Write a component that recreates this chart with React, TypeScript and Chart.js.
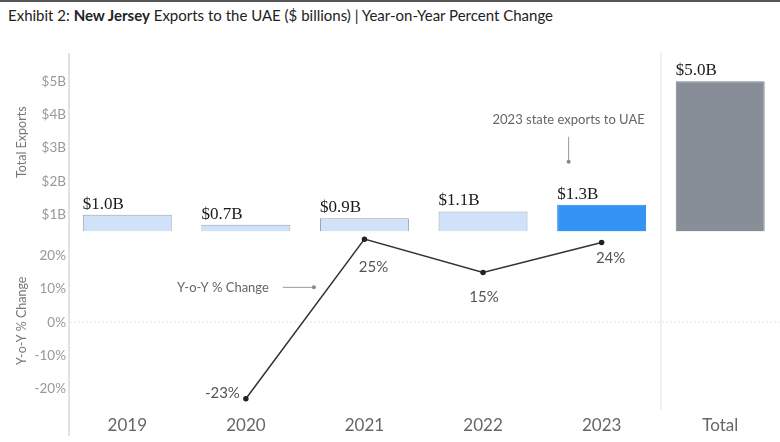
import React, { useEffect, useRef } from 'react';
import { Chart, registerables } from 'chart.js';

Chart.register(...registerables);

// ---- Data ----
const categories = ['2019', '2020', '2021', '2022', '2023', 'Total'];
const exportsBillions = [1.0, 0.7, 0.9, 1.1, 1.3, 5.0];
const yoyPercent: (number | null)[] = [null, -23, 25, 15, 24, null];
const exportTickValues = [1, 2, 3, 4, 5];
const pctTickValues = [-20, -10, 0, 10, 20];
const exportAxisMin = 0.5;
const exportAxisMax = 5.85;
const pctAxisMin = -26.4;
const pctAxisMax = 27.3;

// ---- Styles ----
const barFill = ['#cfe2fa', '#cfe2fa', '#cfe2fa', '#cfe2fa', '#3394f6', '#878e98'];
const barBorder = ['#9ea3aa', '#9ea3aa', '#9ea3aa', '#9ea3aa', '#2f86e0', '#7a818b'];
// label placement for the % labels: [dx, dy, align]
const pctLabelPlacement: [number, number, CanvasTextAlign][] = [
  [0, 0, 'center'],
  [-6, -6, 'right'],
  [9, 28, 'center'],
  [1, 25, 'center'],
  [9, 16, 'center'],
  [0, 0, 'center'],
];

const SANS = 'Lato, "Open Sans", sans-serif';
const SERIF = '"Liberation Serif", "DejaVu Serif", serif';

const fmtExport = (v: number) => `$${v}B`;
const fmtPct = (v: number) => `${v}%`;

const decorPlugin = {
  id: 'decor',
  beforeDatasetsDraw(chart: any) {
    const { ctx, chartArea, scales } = chart;
    const x = scales.x;
    const yP = scales.yPct;
    const yB = scales.yBar;
    ctx.save();
    // left axis line
    ctx.strokeStyle = '#e2e2e2';
    ctx.lineWidth = 2;
    ctx.beginPath();
    ctx.moveTo(chartArea.left + 1, chartArea.top);
    ctx.lineTo(chartArea.left + 1, chartArea.bottom + 26);
    ctx.stroke();
    // separator before Total
    const sepX = (x.getPixelForValue(4) + x.getPixelForValue(5)) / 2;
    ctx.strokeStyle = '#ececec';
    ctx.lineWidth = 1.5;
    ctx.beginPath();
    ctx.moveTo(sepX, chartArea.top);
    ctx.lineTo(sepX, chartArea.bottom);
    ctx.stroke();
    // 0% dotted line
    const y0 = yP.getPixelForValue(0);
    ctx.strokeStyle = '#e4e4e4';
    ctx.lineWidth = 1;
    ctx.setLineDash([2, 2]);
    ctx.beginPath();
    ctx.moveTo(chartArea.left + 2, y0);
    ctx.lineTo(chartArea.right, y0);
    ctx.stroke();
    ctx.setLineDash([]);
    // y tick labels
    ctx.font = `13.5px ${SANS}`;
    ctx.fillStyle = '#999';
    ctx.textAlign = 'right';
    ctx.textBaseline = 'middle';
    exportTickValues.forEach((v) => ctx.fillText(fmtExport(v), chartArea.left - 2, yB.getPixelForValue(v)));
    pctTickValues.forEach((v) => ctx.fillText(fmtPct(v), chartArea.left - 2, yP.getPixelForValue(v)));
    ctx.restore();
  },
  afterDatasetsDraw(chart: any) {
    const { ctx, scales } = chart;
    const x = scales.x;
    const yP = scales.yPct;
    const barMeta = chart.getDatasetMeta(0);
    const lineMeta = chart.getDatasetMeta(1);
    ctx.save();
    // bar value labels
    ctx.font = `17px ${SERIF}`;
    ctx.fillStyle = '#1a1a1a';
    ctx.textAlign = 'left';
    ctx.textBaseline = 'alphabetic';
    barMeta.data.forEach((bar: any, i: number) => {
      const left = bar.x - bar.width / 2;
      ctx.fillText(`$${exportsBillions[i].toFixed(1)}B`, left, bar.y - 6);
    });
    // % labels
    ctx.font = `15px ${SANS}`;
    ctx.fillStyle = '#555';
    ctx.textBaseline = 'middle';
    lineMeta.data.forEach((pt: any, i: number) => {
      const v = yoyPercent[i];
      if (v === null) return;
      const [dx, dy, al] = pctLabelPlacement[i];
      ctx.textAlign = al;
      ctx.fillText(fmtPct(v), pt.x + dx, pt.y + dy);
    });
    // annotation: 2023 state exports
    const b23 = barMeta.data[4];
    const ax = b23.x - 33;
    ctx.strokeStyle = '#999';
    ctx.lineWidth = 1;
    ctx.beginPath();
    ctx.moveTo(ax, b23.y - 68);
    ctx.lineTo(ax, b23.y - 44);
    ctx.stroke();
    ctx.fillStyle = '#888';
    ctx.beginPath();
    ctx.arc(ax, b23.y - 43, 2, 0, Math.PI * 2);
    ctx.fill();
    ctx.font = `13px ${SANS}`;
    ctx.fillStyle = '#666';
    ctx.textAlign = 'center';
    ctx.textBaseline = 'middle';
    ctx.fillText('2023 state exports to UAE', ax, b23.y - 85);
    // annotation: Y-o-Y % Change
    const dotX = x.getPixelForValue(1) + 68;
    const dotY = yP.getPixelForValue(10.5);
    ctx.strokeStyle = '#999';
    ctx.beginPath();
    ctx.moveTo(dotX - 31, dotY);
    ctx.lineTo(dotX, dotY);
    ctx.stroke();
    ctx.fillStyle = '#888';
    ctx.beginPath();
    ctx.arc(dotX, dotY, 2, 0, Math.PI * 2);
    ctx.fill();
    ctx.fillStyle = '#666';
    ctx.textAlign = 'right';
    ctx.fillText('Y-o-Y % Change', dotX - 45, dotY);
    ctx.restore();
  },
};

export default function App() {
  const canvasRef = useRef<HTMLCanvasElement | null>(null);

  useEffect(() => {
    if (!canvasRef.current) return;
    const chart = new Chart(canvasRef.current, {
      type: 'bar',
      data: {
        labels: categories,
        datasets: [
          {
            type: 'bar',
            data: exportsBillions,
            yAxisID: 'yBar',
            base: exportAxisMin,
            backgroundColor: barFill,
            borderColor: barBorder,
            borderWidth: 1,
            borderSkipped: 'bottom',
            barPercentage: 0.75,
            categoryPercentage: 1,
            order: 2,
          } as any,
          {
            type: 'line',
            data: yoyPercent,
            yAxisID: 'yPct',
            borderColor: '#333',
            borderWidth: 1.5,
            pointRadius: 2,
            pointBackgroundColor: '#222',
            pointBorderColor: '#222',
            spanGaps: false,
            order: 1,
          } as any,
        ],
      },
      options: {
        responsive: false,
        animation: false,
        layout: { padding: { top: 53, left: 0, right: 0, bottom: 0 } },
        plugins: { legend: { display: false }, tooltip: { enabled: false } },
        scales: {
          x: {
            type: 'category',
            offset: true,
            grid: { display: false, drawTicks: false },
            border: { display: false },
            ticks: { color: '#666', font: { family: SANS, size: 17 }, padding: 5 },
            afterFit: (s: any) => { s.height = 32; },
          },
          yPct: {
            type: 'linear',
            position: 'left',
            stack: 'main',
            stackWeight: 1,
            min: pctAxisMin,
            max: pctAxisMax,
            grid: { display: false, drawTicks: false },
            border: { display: false },
            ticks: { display: false },
            title: {
              display: true,
              text: 'Y-o-Y % Change',
              color: '#777',
              font: { family: SANS, size: 12.5 },
              padding: { top: 14, bottom: 0 },
            },
            afterFit: (s: any) => { s.width = 68; },
          },
          yBar: {
            type: 'linear',
            position: 'left',
            stack: 'main',
            stackWeight: 1,
            min: exportAxisMin,
            max: exportAxisMax,
            grid: { display: false, drawTicks: false },
            border: { display: false },
            ticks: { display: false },
            title: {
              display: true,
              text: 'Total Exports',
              color: '#777',
              font: { family: SANS, size: 12.5 },
              padding: { top: 14, bottom: 0 },
            },
            afterFit: (s: any) => { s.width = 68; },
          },
        },
      } as any,
      plugins: [decorPlugin],
    });
    return () => chart.destroy();
  }, []);

  return (
    <div
      style={{
        position: 'fixed',
        left: 0,
        top: 0,
        width: 780,
        height: 442,
        overflow: 'hidden',
        background: '#fff',
      }}
    >
      <div style={{ position: 'absolute', left: 0, top: 0, width: 780, height: 2, background: '#555' }} />
      <div
        style={{
          position: 'absolute',
          left: 8,
          top: 6,
          fontFamily: SANS,
          fontSize: 15,
          color: '#222',
          whiteSpace: 'nowrap',
          lineHeight: '18px',
        }}
      >
        Exhibit 2: <b>New Jersey</b> Exports to the UAE ($ billions) | Year-on-Year Percent Change
      </div>
      <canvas
        ref={canvasRef}
        width={785}
        height={442}
        style={{ position: 'absolute', left: 0, top: 0, width: 785, height: 442 }}
      />
    </div>
  );
}
